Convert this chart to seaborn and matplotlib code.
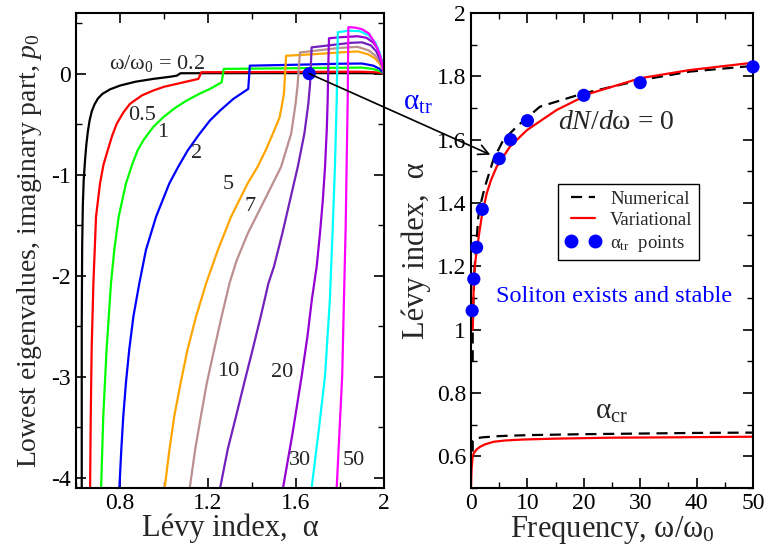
import numpy as np
import pandas as pd
import matplotlib
matplotlib.use("Agg")
import matplotlib.pyplot as plt
import seaborn as sns
from matplotlib.patches import ConnectionPatch
from matplotlib.lines import Line2D
from matplotlib.ticker import MultipleLocator

# ---------------- Left panel: lowest eigenvalues p0 vs alpha ----------------
alpha_w02 = [0.626, 0.626, 0.628, 0.631, 0.635, 0.641, 0.647, 0.654, 0.662, 0.672, 0.685, 0.700, 0.720, 0.755, 0.800, 0.870, 0.951, 1.030, 1.058, 1.075, 1.500, 1.900, 1.970, 2.000]
p_w02 = [-4.1, -2.5, -1.7, -1.3, -1.05, -0.857, -0.70, -0.57, -0.46, -0.37, -0.30, -0.245, -0.20, -0.155, -0.118, -0.08, -0.052, -0.03, -0.02, 0.004, 0.005, 0.005, 0.003, 0.0]

alpha_w05 = [0.664, 0.667, 0.671, 0.679, 0.691, 0.709, 0.725, 0.744, 0.765, 0.785, 0.815, 0.845, 0.900, 0.951, 1.000, 1.058, 1.110, 1.156, 1.170, 1.500, 1.800, 1.900, 1.950, 1.980, 2.000]
p_w05 = [-4.1, -3.385, -2.729, -2.072, -1.415, -1.087, -0.90, -0.759, -0.61, -0.496, -0.385, -0.299, -0.215, -0.167, -0.13, -0.101, -0.075, -0.052, 0.014, 0.016, 0.019, 0.019, 0.015, 0.009, 0.0]

alpha_w1 = [0.714, 0.724, 0.739, 0.759, 0.774, 0.794, 0.827, 0.855, 0.880, 0.906, 0.950, 0.997, 1.050, 1.103, 1.160, 1.209, 1.262, 1.272, 1.500, 1.800, 1.900, 1.950, 1.980, 2.000]
p_w1 = [-4.1, -3.385, -2.729, -2.072, -1.744, -1.415, -1.087, -0.90, -0.759, -0.66, -0.53, -0.43, -0.34, -0.266, -0.20, -0.151, -0.086, 0.047, 0.052, 0.058, 0.060, 0.046, 0.027, 0.0]

alpha_w2 = [0.797, 0.806, 0.815, 0.827, 0.842, 0.861, 0.888, 0.918, 0.964, 1.024, 1.065, 1.108, 1.160, 1.209, 1.255, 1.315, 1.383, 1.390, 1.600, 1.800, 1.900, 1.950, 1.980, 2.000]
p_w2 = [-4.1, -3.714, -3.385, -3.057, -2.729, -2.401, -2.072, -1.744, -1.415, -1.087, -0.92, -0.759, -0.60, -0.463, -0.365, -0.25, -0.151, 0.079, 0.088, 0.098, 0.100, 0.080, 0.048, 0.0]

alpha_w5 = [1.003, 1.025, 1.047, 1.076, 1.107, 1.146, 1.192, 1.245, 1.305, 1.380, 1.425, 1.462, 1.495, 1.526, 1.537, 1.545, 1.555, 1.700, 1.800, 1.880, 1.930, 1.960, 1.980, 1.995, 2.000]
p_w5 = [-4.1, -3.714, -3.385, -3.057, -2.729, -2.401, -2.072, -1.744, -1.415, -1.087, -0.923, -0.759, -0.594, -0.43, -0.30, -0.20, 0.177, 0.195, 0.210, 0.220, 0.190, 0.150, 0.100, 0.040, 0.0]

alpha_w7 = [1.117, 1.142, 1.168, 1.195, 1.228, 1.262, 1.298, 1.330, 1.381, 1.457, 1.532, 1.578, 1.598, 1.607, 1.618, 1.700, 1.800, 1.880, 1.930, 1.960, 1.980, 1.995, 2.000]
p_w7 = [-4.1, -3.714, -3.385, -3.057, -2.729, -2.401, -2.072, -1.85, -1.58, -1.251, -0.923, -0.594, -0.30, -0.12, 0.210, 0.230, 0.255, 0.265, 0.230, 0.180, 0.120, 0.050, 0.0]

alpha_w10 = [1.255, 1.290, 1.328, 1.365, 1.403, 1.440, 1.475, 1.500, 1.538, 1.573, 1.608, 1.638, 1.656, 1.664, 1.671, 1.750, 1.850, 1.900, 1.940, 1.965, 1.980, 1.995, 2.000]
p_w10 = [-4.1, -3.714, -3.385, -3.057, -2.729, -2.40, -2.072, -1.908, -1.58, -1.251, -0.923, -0.594, -0.30, -0.10, 0.260, 0.280, 0.305, 0.310, 0.280, 0.220, 0.150, 0.060, 0.0]

alpha_w20 = [1.541, 1.585, 1.626, 1.652, 1.672, 1.694, 1.709, 1.722, 1.732, 1.740, 1.744, 1.747, 1.750, 1.800, 1.880, 1.920, 1.950, 1.970, 1.985, 1.995, 2.000]
p_w20 = [-4.1, -3.55, -2.99, -2.60, -2.237, -1.908, -1.58, -1.25, -0.923, -0.55, -0.266, 0.10, 0.350, 0.360, 0.370, 0.355, 0.310, 0.250, 0.160, 0.070, 0.0]

alpha_w30 = [1.671, 1.705, 1.732, 1.754, 1.766, 1.777, 1.785, 1.790, 1.840, 1.890, 1.930, 1.960, 1.980, 1.993, 2.000]
p_w30 = [-4.1, -3.5, -2.99, -2.237, -1.58, -0.923, -0.266, 0.410, 0.425, 0.420, 0.380, 0.310, 0.210, 0.090, 0.0]

alpha_w50 = [1.785, 1.810, 1.818, 1.826, 1.830, 1.835, 1.838, 1.870, 1.900, 1.930, 1.951, 1.970, 1.982, 1.992, 2.000]
p_w50 = [-4.1, -2.99, -2.237, -1.5, -0.923, -0.266, 0.460, 0.455, 0.440, 0.400, 0.330, 0.250, 0.180, 0.090, 0.0]

left_alphas = [alpha_w02, alpha_w05, alpha_w1, alpha_w2, alpha_w5, alpha_w7, alpha_w10, alpha_w20, alpha_w30, alpha_w50]
left_ps = [p_w02, p_w05, p_w1, p_w2, p_w5, p_w7, p_w10, p_w20, p_w30, p_w50]
left_colors = ["#000000", "#ff0000", "#00ff00", "#0000ff", "#ffa500", "#bc8f8f", "#7221bc", "#9400d3", "#00ffff", "#ff00ff"]

# curve labels (text, alpha, p)
curve_label_text = ["ω/ω$_\\mathrm{0}$ = 0.2", "0.5", "1", "2", "5", "7", "10", "20", "30", "50"]
curve_label_alpha = [0.968, 0.902, 0.993, 1.149, 1.291, 1.391, 1.291, 1.535, 1.618, 1.861]
curve_label_p = [0.10, -0.419, -0.586, -0.793, -1.10, -1.315, -2.95, -2.96, -3.83, -3.83]

# ---------------- Right panel: alpha vs frequency ----------------
omega_tr = [0.2, 0.5, 1, 2, 5, 7, 10, 20, 30, 50]
alpha_tr = [1.06, 1.16, 1.26, 1.38, 1.54, 1.60, 1.66, 1.74, 1.78, 1.83]

omega_num_up = [0.3, 0.3, 0.45, 0.65, 0.9, 1.3, 1.6, 2.48, 3.95, 5.73, 8.1, 12.2, 19.9, 30, 38.8, 50]
alpha_num_up = [0.90, 1.00, 1.10, 1.20, 1.26, 1.357, 1.39, 1.452, 1.536, 1.599, 1.641, 1.704, 1.746, 1.788, 1.815, 1.833]

omega_var_up = [0.3, 0.38, 0.45, 0.6, 0.8, 1.12, 1.5, 1.9, 2.78, 3.5, 4.56, 6.9, 9.9, 15.2, 21.1, 30, 38.8, 50]
alpha_var_up = [1.00, 1.06, 1.12, 1.18, 1.22, 1.262, 1.31, 1.357, 1.43, 1.47, 1.515, 1.578, 1.63, 1.694, 1.746, 1.794, 1.82, 1.843]

omega_num_cr = [0.3, 0.3, 0.6, 1.0, 2, 5, 10, 20, 30, 40, 50]
alpha_num_cr = [0.615, 0.648, 0.655, 0.657, 0.660, 0.664, 0.667, 0.670, 0.672, 0.674, 0.675]

omega_var_cr = [0, 0.1, 0.3, 0.5, 1.0, 1.6, 2.5, 4, 6, 9, 15, 25, 35, 50]
alpha_var_cr = [0.50, 0.56, 0.60, 0.61, 0.622, 0.63, 0.638, 0.646, 0.65, 0.653, 0.656, 0.659, 0.66, 0.662]

legend_labels = ["Numerical", "Variational", "α$_\\mathrm{tr}$  points"]

# ---------------- Style ----------------
sns.set_style("ticks")
plt.rcParams.update({
    "font.family": ["Liberation Serif", "DejaVu Serif"],
    "mathtext.fontset": "custom",
    "mathtext.rm": "Liberation Serif",
    "mathtext.it": "Liberation Serif:italic",
    "mathtext.bf": "Liberation Serif:bold",
    "axes.unicode_minus": False,
    "axes.linewidth": 1.5,
    "axes.edgecolor": "black",
    "xtick.direction": "in",
    "ytick.direction": "in",
    "xtick.top": True,
    "ytick.right": True,
    "xtick.major.size": 7,
    "ytick.major.size": 7,
    "xtick.minor.size": 4,
    "ytick.minor.size": 4,
    "xtick.major.width": 1.2,
    "ytick.major.width": 1.2,
    "xtick.minor.width": 1.0,
    "ytick.minor.width": 1.0,
    "xtick.color": "black",
    "ytick.color": "black",
    "xtick.labelsize": 17,
    "ytick.labelsize": 17,
})

fig = plt.figure(figsize=(7.64, 5.51), dpi=100)
axL = fig.add_axes([0.0995, 0.1143, 0.4031, 0.8621])
axR = fig.add_axes([0.6165, 0.1143, 0.3691, 0.8621])

lw = 1.6
for a, p, c in zip(left_alphas, left_ps, left_colors):
    df = pd.DataFrame({"alpha": a, "p": p})
    sns.lineplot(data=df, x="alpha", y="p", ax=axL, color=c, lw=lw,
                 estimator=None, sort=False, legend=False)

for t, a, p in zip(curve_label_text, curve_label_alpha, curve_label_p):
    axL.text(a, p, t, fontsize=16, ha="center", va="center")

# alpha_tr marker on the left panel (omega = 10 curve)
sns.scatterplot(x=[alpha_tr[6]], y=[0.0], ax=axL, color="#0000ff", s=90,
                edgecolor="none", legend=False, zorder=5)

axL.set_xlim(0.6, 2.0)
axL.set_ylim(-4.1, 0.6)
axL.xaxis.set_major_locator(MultipleLocator(0.4))
axL.xaxis.set_minor_locator(MultipleLocator(0.2))
axL.yaxis.set_major_locator(MultipleLocator(1))
axL.yaxis.set_minor_locator(MultipleLocator(0.5))
axL.set_xticks([0.8, 1.2, 1.6, 2.0])
axL.set_xticklabels(["0.8", "1.2", "1.6", "2"])
axL.set_yticks([0, -1, -2, -3, -4])
axL.set_yticklabels(["0", "-1", "-2", "-3", "-4"])
axL.set_xlabel("Lévy index,  α", fontsize=22, labelpad=0)
axL.set_ylabel("Lowest eigenvalues, imaginary part, $p_\\mathrm{0}$", fontsize=20, labelpad=5)

# Right panel
df_nu = pd.DataFrame({"w": omega_num_up, "a": alpha_num_up})
df_vu = pd.DataFrame({"w": omega_var_up, "a": alpha_var_up})
df_nc = pd.DataFrame({"w": omega_num_cr, "a": alpha_num_cr})
df_vc = pd.DataFrame({"w": omega_var_cr, "a": alpha_var_cr})
dash = (5, 3)
sns.lineplot(data=df_nu, x="w", y="a", ax=axR, color="black", lw=lw, estimator=None, sort=False, legend=False)
sns.lineplot(data=df_nc, x="w", y="a", ax=axR, color="black", lw=lw, estimator=None, sort=False, legend=False)
for ln in axR.get_lines():
    ln.set_dashes(dash)
sns.lineplot(data=df_vu, x="w", y="a", ax=axR, color="#ff0000", lw=lw, estimator=None, sort=False, legend=False)
sns.lineplot(data=df_vc, x="w", y="a", ax=axR, color="#ff0000", lw=lw, estimator=None, sort=False, legend=False)
sns.scatterplot(x=omega_tr, y=alpha_tr, ax=axR, color="#0000ff", s=90,
                edgecolor="none", legend=False, zorder=5, clip_on=False)

axR.set_xlim(0, 50)
axR.set_ylim(0.5, 2.0)
axR.xaxis.set_major_locator(MultipleLocator(10))
axR.xaxis.set_minor_locator(MultipleLocator(5))
axR.yaxis.set_major_locator(MultipleLocator(0.2))
axR.yaxis.set_minor_locator(MultipleLocator(0.1))
axR.set_yticks([0.6, 0.8, 1.0, 1.2, 1.4, 1.6, 1.8, 2.0])
axR.set_yticklabels(["0.6", "0.8", "1", "1.2", "1.4", "1.6", "1.8", "2"])
axR.set_xlabel("Frequency, ω/ω$_\\mathrm{0}$", fontsize=22, labelpad=0)
axR.set_ylabel("Lévy index,  α", fontsize=22, labelpad=4)

axR.text(25.7, 1.653, "$dN/d$ω = 0", fontsize=20, ha="center", va="center")
axR.text(25.4, 1.106, "Soliton exists and stable", fontsize=17.5, color="#0000ff", ha="center", va="center")
axR.text(25.0, 0.74, "α$_\\mathrm{cr}$", fontsize=21, ha="center", va="center")

handles = [
    Line2D([], [], color="black", lw=lw, dashes=dash),
    Line2D([], [], color="#ff0000", lw=lw),
    Line2D([], [], color="#0000ff", marker="o", ls="none", markersize=9),
]
leg = axR.legend(handles, legend_labels, loc="upper left", bbox_to_anchor=(0.277, 0.659),
                 fontsize=13.5, numpoints=2, handlelength=1.9, handletextpad=0.5,
                 frameon=True, fancybox=False, framealpha=1, edgecolor="black",
                 borderpad=0.35, labelspacing=0.2)
leg.get_frame().set_linewidth(1.0)

# arrow from left alpha_tr marker to right panel
con = ConnectionPatch(xyA=(alpha_tr[6], 0.0), coordsA=axL.transData,
                      xyB=(omega_tr[4], alpha_tr[4]), coordsB=axR.transData,
                      arrowstyle="->", mutation_scale=18, color="black", lw=1.2,
                      shrinkA=0, shrinkB=7)
fig.add_artist(con)
fig.text(418 / 764, 1 - 103 / 551, "α$_\\mathrm{tr}$", fontsize=21, color="#0000ff", ha="center", va="center")

fig.savefig("out.png", dpi=100)
